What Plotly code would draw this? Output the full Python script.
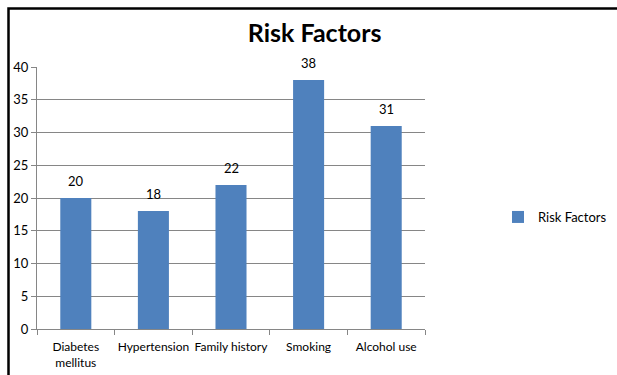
import plotly.graph_objects as go

categories = ["Diabetes<br>mellitus", "Hypertension", "Family history", "Smoking", "Alcohol use"]
values = [20, 18, 22, 38, 31]
series_name = "Risk Factors"
y_ticks = [0, 5, 10, 15, 20, 25, 30, 35, 40]

L, R, T, B = 37, 192, 67, 46
W, H = 617, 375
pw, ph = W - L - R, H - T - B

fig = go.Figure()
fig.add_trace(go.Bar(
    x=categories, y=values, name=series_name,
    marker=dict(color="#4F81BD", line=dict(width=0)),
    width=0.4,
    cliponaxis=False,
))

for c, v in zip(categories, values):
    fig.add_annotation(x=c, y=v, text=str(v), showarrow=False, yanchor="bottom", yshift=7,
                       font=dict(size=13, color="#000000"))

def px_x(p):
    return (p - L) / pw

def px_y(p):
    return (H - B - p) / ph

fig.add_shape(type="path", xref="paper", yref="paper",
              path=f"M {px_x(8.5)} {px_y(380)} L {px_x(8.5)} {px_y(8.5)} L {px_x(620)} {px_y(8.5)}",
              line=dict(color="black", width=2.5))

fig.update_layout(
    width=W, height=H,
    margin=dict(l=L, r=R, t=T, b=B, autoexpand=False),
    paper_bgcolor="white", plot_bgcolor="white",
    font=dict(family="Lato, Open Sans, sans-serif", size=13, color="#000000"),
    title=dict(text="<b>Risk Factors</b>", x=0.51, xanchor="center", y=1 - 33 / H, yanchor="middle",
               font=dict(size=25, color="#000000")),
    showlegend=True,
    legend=dict(x=px_x(498), y=px_y(217), xanchor="left", yanchor="middle",
                font=dict(size=13), itemwidth=30, bgcolor="rgba(0,0,0,0)"),
    xaxis=dict(type="category", showline=True, linecolor="#868686", linewidth=1,
               ticks="outside", tickson="boundaries", ticklen=5, tickcolor="#868686",
               showgrid=False, tickfont=dict(size=12), tickangle=0, automargin=False,
               ticklabelstandoff=7),
    yaxis=dict(range=[0, 40], tickvals=y_ticks, showline=True, linecolor="#868686", linewidth=1,
               ticks="outside", ticklen=5, tickcolor="#868686",
               showgrid=True, gridcolor="#868686", gridwidth=1, zeroline=False,
               tickfont=dict(size=13), automargin=False),
    bargap=0.6,
)

fig.write_html("out.html")
